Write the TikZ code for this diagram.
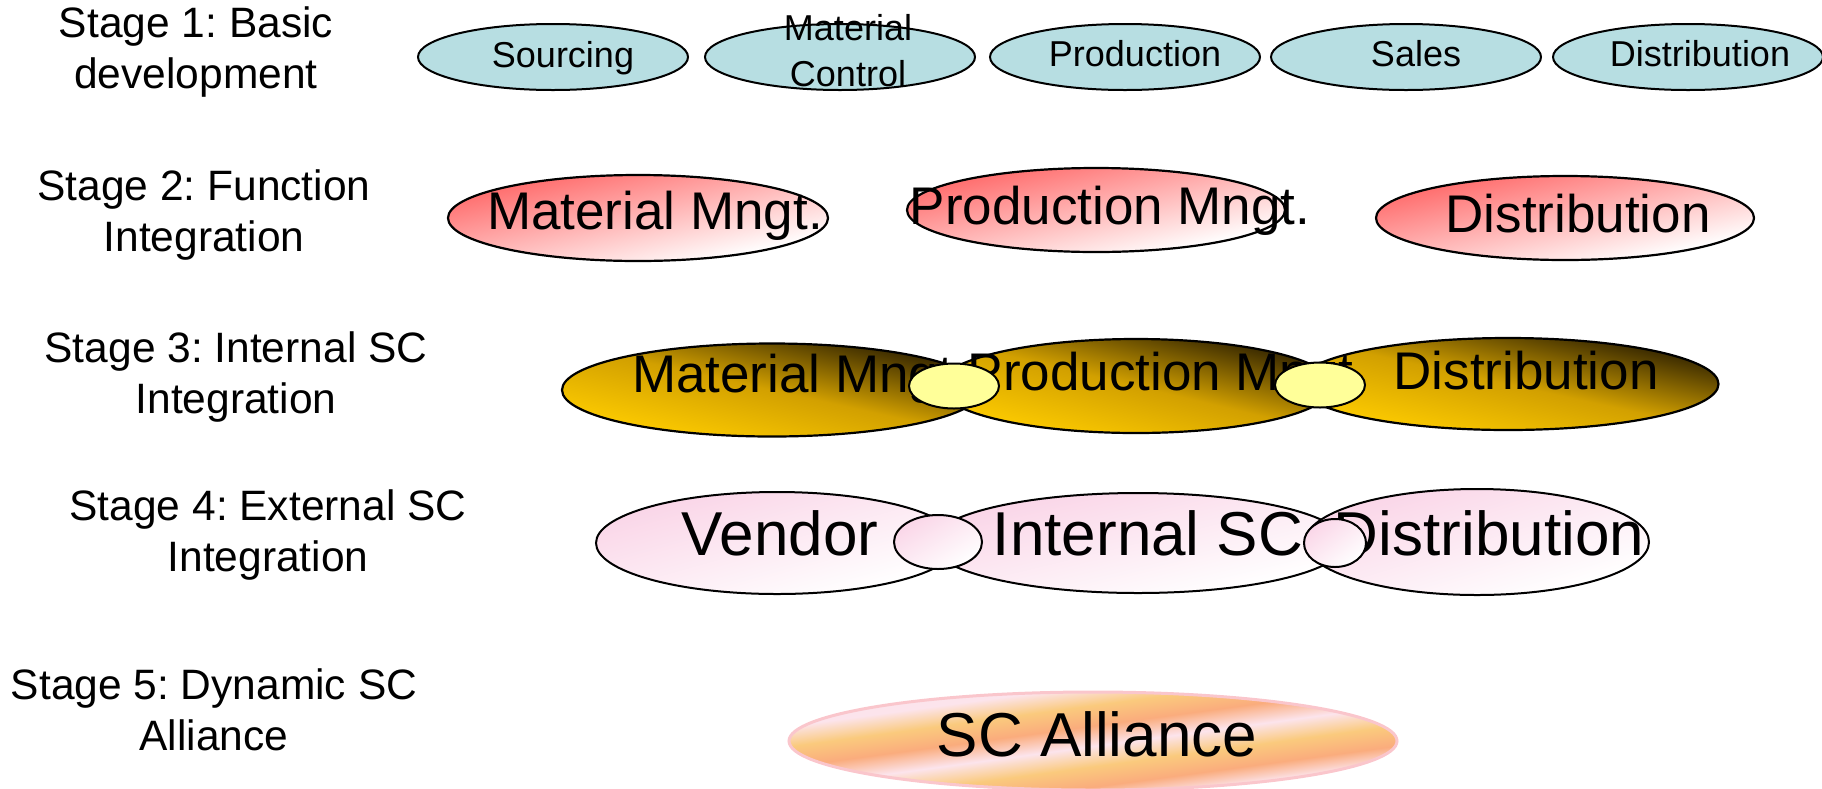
\documentclass[tikz,border=0pt]{standalone}
\usepackage{fontspec}
\setmainfont{Liberation Sans}
\frenchspacing
\usetikzlibrary{shapes.geometric}
\definecolor{tealfill}{RGB}{183,222,226}
\definecolor{redtop}{RGB}{255,112,112}
\definecolor{golddark}{RGB}{62,45,0}
\definecolor{goldmid}{RGB}{210,160,0}
\definecolor{goldlight}{RGB}{250,200,0}
\definecolor{pinktop}{RGB}{250,214,232}
\definecolor{yel}{RGB}{255,255,153}
\definecolor{aor}{RGB}{250,202,125}
\definecolor{asa}{RGB}{250,172,125}
\definecolor{api}{RGB}{252,228,236}
\definecolor{aborder}{RGB}{250,198,204}
\pgfdeclareverticalshading{alliance}{100bp}{color(0bp)=(api); color(25bp)=(api); color(32bp)=(asa); color(40bp)=(aor); color(48bp)=(api); color(56bp)=(asa); color(64bp)=(aor); color(72bp)=(api); color(75bp)=(api); color(100bp)=(api)}
% shaded ellipse fill: the shading is stretched with the shape
\newcommand\shadeell[5]{%
  \pgfmathsetmacro\ellk{#3/#4}%
  \begin{scope}[transform canvas={shift={(#1,#2)}, xscale=\ellk}]
    \shade[#5] (0,0) circle[radius=#4/2];
  \end{scope}}
\tikzset{
  stagelbl/.style={align=center, inner sep=0pt, font=\fontsize{42.5}{51}\selectfont},
  eone/.style={ellipse, draw=black, line width=2pt, fill=tealfill, inner sep=0pt, minimum width=270pt, minimum height=66pt},
  tone/.style={inner sep=0pt, align=center, font=\fontsize{36}{46}\selectfont},
  outl/.style={ellipse, draw=black, line width=2.2pt, inner sep=0pt},
  shtwo/.style={top color=redtop, bottom color=white, shading angle=45},
  ttwo/.style={inner sep=0pt, font=\fontsize{53}{60}\selectfont},
  shthree/.style={top color=golddark, bottom color=goldlight, middle color=goldmid, shading angle=-45},
  yelc/.style={ellipse, draw=black, line width=2pt, fill=yel, inner sep=0pt, minimum width=90pt, minimum height=45pt},
  shfour/.style={top color=pinktop, bottom color=white, shading angle=45},
  tfour/.style={inner sep=0pt, font=\fontsize{62}{70}\selectfont},
  shfive/.style={shading=alliance, shading angle=40},
  outfive/.style={ellipse, draw=aborder, line width=3pt, inner sep=0pt},
}
\begin{document}
\begin{tikzpicture}[x=1pt,y=-1pt]
\useasboundingbox (0,0) rectangle (1822,788);
% stage labels
\node[stagelbl] (s1) at (196,52) {Stage 1: Basic\\development};
\node[stagelbl] (s2) at (204,215) {Stage 2: Function\\Integration};
\node[stagelbl] (s3) at (236,377) {Stage 3: Internal SC\\Integration};
\node[stagelbl] (s4) at (268,535) {Stage 4: External SC\\Integration};
\node[stagelbl] (s5) at (214,710) {Stage 5: Dynamic SC\\Alliance};
% row 1
\node[eone] (r1a) at (553,57) {};
\node[eone] (r1b) at (840,57) {};
\node[eone] (r1c) at (1125,57) {};
\node[eone] (r1d) at (1406,57) {};
\node[eone] (r1e) at (1688,57) {};
\node[tone] (r1at) at (563,58) {Sourcing};
\node[tone] (r1bt) at (848,51) {Material\\Control};
\node[tone] (r1ct) at (1135,54) {Production};
\node[tone] (r1dt) at (1416,54) {Sales};
\node[tone] (r1et) at (1700,54) {Distribution};
% row 2
\shadeell{638}{218}{380}{86}{shtwo}
\node[outl, minimum width=380pt, minimum height=86pt] (r2a) at (638,218) {};
\shadeell{1096}{210}{378}{84}{shtwo}
\node[outl, minimum width=378pt, minimum height=84pt] (r2b) at (1096,210) {};
\shadeell{1565}{218}{378}{84}{shtwo}
\node[outl, minimum width=378pt, minimum height=84pt] (r2c) at (1565,218) {};
\node[ttwo] (r2at) at (655,216) {Material Mngt.};
\node[ttwo] (r2bt) at (1110,211) {Production Mngt.};
\node[ttwo] (r2ct) at (1578,214) {Distribution};
% row 3
\shadeell{772}{390}{420}{93}{shthree}
\node[outl, minimum width=420pt, minimum height=93pt] (r3a) at (772,390) {};
\shadeell{1136}{386}{394}{94}{shthree}
\node[outl, minimum width=394pt, minimum height=94pt] (r3b) at (1136,386) {};
\shadeell{1508}{384}{421}{92}{shthree}
\node[outl, minimum width=421pt, minimum height=92pt] (r3c) at (1508,384) {};
\node[ttwo] (r3at) at (800,379) {Material Mngt.};
\node[ttwo] (r3bt) at (1168,377) {Production Mngt.};
\node[ttwo] (r3ct) at (1526,371) {Distribution};
\node[yelc] (y1) at (954,386) {};
\node[yelc] (y2) at (1320,385) {};
% row 4
\shadeell{777}{543}{362}{102}{shfour}
\node[outl, line width=2pt, minimum width=362pt, minimum height=102pt] (r4a) at (777,543) {};
\shadeell{1138}{543}{414}{100}{shfour}
\node[outl, line width=2pt, minimum width=414pt, minimum height=100pt] (r4b) at (1138,543) {};
\shadeell{1477}{542}{344}{106}{shfour}
\node[outl, line width=2pt, minimum width=344pt, minimum height=106pt] (r4c) at (1477,542) {};
\node[tfour] (r4at) at (780,533) {Vendor};
\node[tfour] (r4bt) at (1148,533) {Internal SC};
\node[tfour] (r4ct) at (1489,533) {Distribution};
\shadeell{938}{542}{88}{54}{shfour}
\node[outl, line width=2pt, minimum width=88pt, minimum height=54pt] (w1) at (938,542) {};
\shadeell{1335}{543}{62}{48}{shfour}
\node[outl, line width=2pt, minimum width=62pt, minimum height=48pt] (w2) at (1335,543) {};
% row 5
\shadeell{1093}{741}{608}{98}{shfive}
\node[outfive, minimum width=608pt, minimum height=98pt] (r5) at (1093,741) {};
\node[tfour] (r5t) at (1097,734) {SC Alliance};
\end{tikzpicture}
\end{document}
